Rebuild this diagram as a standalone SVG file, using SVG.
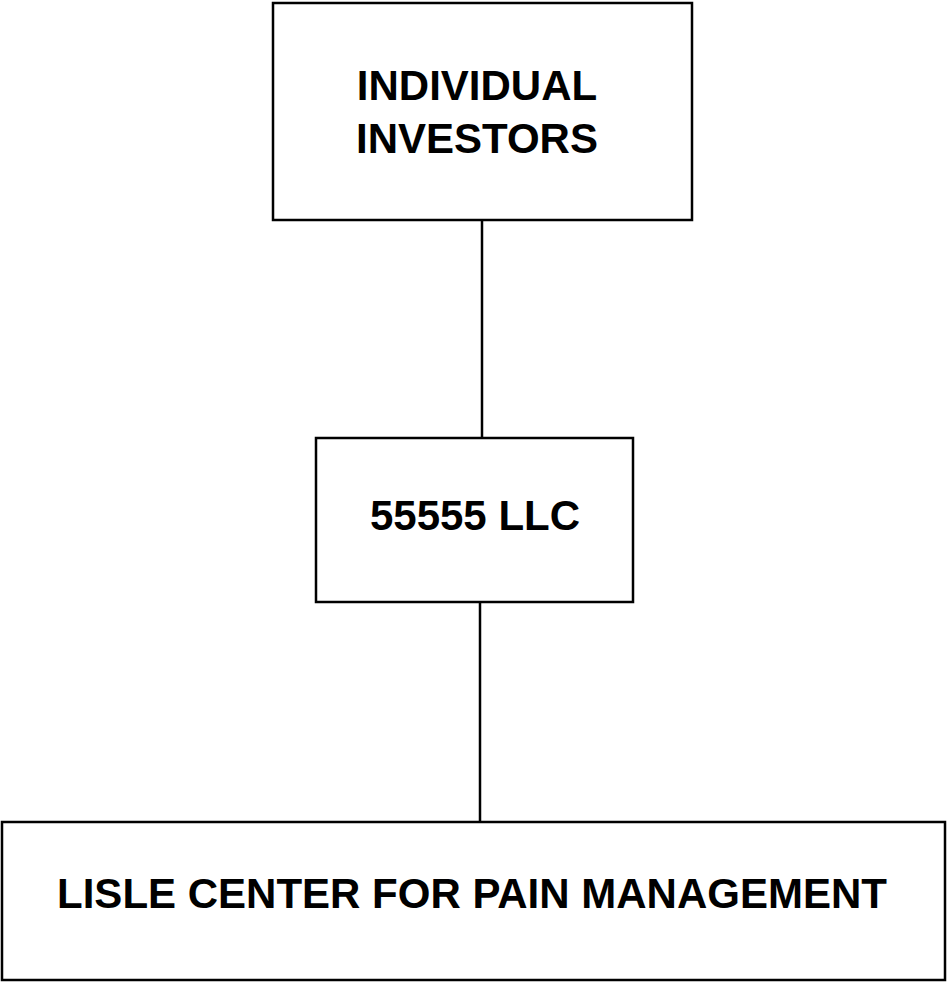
<svg xmlns="http://www.w3.org/2000/svg" width="949" height="984" viewBox="0 0 949 984">
<style>
.box{fill:#fff;stroke:#000;stroke-width:2.5}
.lbl{font-family:"Liberation Sans",Arial,sans-serif;font-weight:bold;font-size:42px;fill:#000;text-anchor:middle}
.con{stroke:#000;stroke-width:2.5;fill:none}
</style>
<rect width="949" height="984" fill="#fff"/>
<g id="connectors">
<line class="con" x1="482" y1="220" x2="482" y2="438"/>
<line class="con" x1="480" y1="602" x2="480" y2="822"/>
</g>
<g id="individual-investors">
<rect class="box" x="273" y="3" width="419" height="217"/>
<text class="lbl" x="477" y="100">INDIVIDUAL</text>
<text class="lbl" x="477" y="153">INVESTORS</text>
</g>
<g id="llc">
<rect class="box" x="316" y="438" width="317" height="164"/>
<text class="lbl" x="475" y="530">55555 LLC</text>
</g>
<g id="lisle-center">
<rect class="box" x="2" y="822" width="943" height="158"/>
<text class="lbl" x="472" y="908">LISLE CENTER FOR PAIN MANAGEMENT</text>
</g>
</svg>
